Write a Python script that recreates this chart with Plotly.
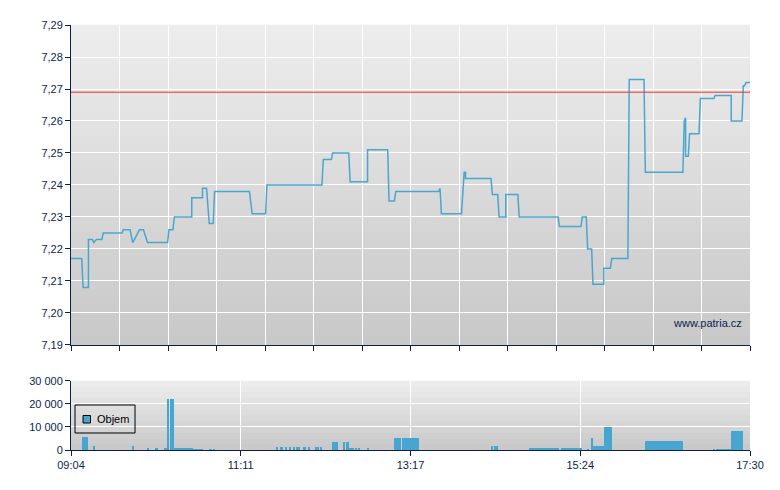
import plotly.graph_objects as go
from datetime import datetime

DAY = "2024-01-02 "
session_start = "09:04"
session_end = "17:30"
x_tick_labels = ["09:04", "11:11", "13:17", "15:24", "17:30"]
prev_close = 7.269
legend_label = "Objem"

price_times = ["09:04", "09:12", "09:13", "09:17", "09:17", "09:20", "09:21", "09:23", "09:27", "09:28",
               "09:42", "09:43", "09:48", "09:50", "09:55", "09:58", "10:01", "10:16", "10:17", "10:20",
               "10:21", "10:34", "10:34", "10:42", "10:42", "10:45", "10:47", "10:50", "10:51", "11:17",
               "11:19", "11:29", "11:30", "12:11", "12:12", "12:18", "12:19", "12:31", "12:32", "12:45",
               "12:45", "13:00", "13:01", "13:05", "13:06", "13:38", "13:39", "13:40", "13:55", "13:57",
               "13:58", "13:58", "14:17", "14:18", "14:22", "14:23", "14:28", "14:28", "14:37", "14:38",
               "15:07", "15:08", "15:24", "15:25", "15:28", "15:29", "15:32", "15:33", "15:41", "15:41",
               "15:46", "15:47", "15:59", "16:00", "16:11", "16:12", "16:40", "16:41", "16:42", "16:42",
               "16:44", "16:45", "16:52", "16:53", "17:03", "17:04", "17:16", "17:16", "17:24", "17:25",
               "17:26", "17:27", "17:30"]
price_values = [7.217, 7.217, 7.208, 7.208, 7.223, 7.223, 7.222, 7.223, 7.223, 7.225,
                7.225, 7.226, 7.226, 7.222, 7.226, 7.226, 7.222, 7.222, 7.226, 7.226,
                7.230, 7.230, 7.236, 7.236, 7.239, 7.239, 7.228, 7.228, 7.238, 7.238,
                7.231, 7.231, 7.240, 7.240, 7.248, 7.248, 7.250, 7.250, 7.241, 7.241,
                7.251, 7.251, 7.235, 7.235, 7.238, 7.238, 7.239, 7.231, 7.231, 7.244,
                7.244, 7.242, 7.242, 7.237, 7.237, 7.230, 7.230, 7.237, 7.237, 7.230,
                7.230, 7.227, 7.227, 7.230, 7.230, 7.220, 7.220, 7.209, 7.209, 7.214,
                7.214, 7.217, 7.217, 7.273, 7.273, 7.244, 7.244, 7.260, 7.261, 7.249,
                7.249, 7.256, 7.256, 7.267, 7.267, 7.268, 7.268, 7.260, 7.260, 7.271,
                7.271, 7.272, 7.272]

vol_start = ["09:12", "09:21", "09:50", "10:01", "10:07", "10:08", "10:13", "10:16", "10:18", "10:21",
             "10:35", "10:37", "10:47", "10:48", "10:50", "11:37", "11:40", "11:41", "11:44", "11:47",
             "11:50", "11:52", "11:57", "12:01", "12:06", "12:10", "12:19", "12:20", "12:27", "12:29",
             "12:31", "12:36", "12:38", "12:45", "13:05", "13:11", "13:14", "14:17", "14:19", "14:45",
             "15:09", "15:29", "15:32", "15:33", "15:41", "16:12", "17:03", "17:05", "17:08", "17:16"]
vol_end = ["09:17", "09:22", "09:51", "10:02", "10:08", "10:09", "10:16", "10:17", "10:21", "10:35",
           "10:37", "10:42", "10:48", "10:49", "10:51", "11:38", "11:41", "11:42", "11:45", "11:48",
           "11:51", "11:55", "11:59", "12:02", "12:09", "12:11", "12:20", "12:23", "12:28", "12:31",
           "12:35", "12:37", "12:39", "12:46", "13:10", "13:14", "13:23", "14:18", "14:22", "15:08",
           "15:25", "15:30", "15:33", "15:41", "15:47", "16:40", "17:04", "17:08", "17:16", "17:25"]
vol_values = [5600, 1700, 1700, 900, 900, 900, 900, 22000, 22000, 900,
              400, 400, 400, 400, 400, 1300, 1300, 1300, 1300, 1300,
              1300, 1300, 1300, 1300, 1300, 1300, 3600, 3600, 3600, 3600,
              900, 900, 900, 900, 5200, 5200, 5200, 1700, 1700, 900,
              900, 400, 5200, 1700, 10000, 3900, 400, 400, 400, 8200]


def ts(s):
    return datetime.strptime(DAY + s, "%Y-%m-%d %H:%M")


NAVY = "#0b1f4e"
LINE_BLUE = "#4aa6cf"
BAR_BLUE = "#46a6d0"
FONT = "Liberation Sans, Arial, sans-serif"

t0, t1 = ts(session_start), ts(session_end)
span = t1 - t0
top_grid = [t0 + span * i / 14 for i in range(15)]
bottom_ticks = [t0 + span * i / 4 for i in range(5)]

fig = go.Figure()

fig.add_trace(go.Scatter(
    x=[ts(t) for t in price_times], y=price_values, mode="lines",
    line=dict(color=LINE_BLUE, width=1.5), xaxis="x", yaxis="y",
    showlegend=False, hoverinfo="skip"))

fig.add_trace(go.Bar(
    x=[ts(s) for s in vol_start], y=vol_values,
    width=[(ts(e) - ts(s)).total_seconds() * 1000 for s, e in zip(vol_start, vol_end)],
    offset=0, marker=dict(color=BAR_BLUE, line=dict(width=0)),
    xaxis="x2", yaxis="y2", showlegend=False, hoverinfo="skip"))

shapes = []
# gradient backgrounds
n = 40
for i in range(n):
    c = int(238 - (238 - 200) * (i + 0.5) / n)
    col = f"rgb({c},{c},{c})"
    shapes.append(dict(type="rect", xref="x domain", yref="y domain",
                       x0=0, x1=1, y0=1 - (i + 1) / n, y1=1 - i / n + 0.001,
                       fillcolor=col, line=dict(width=0), layer="below"))
m = 12
for i in range(m):
    c = int(238 - (238 - 200) * (i + 0.5) / m)
    col = f"rgb({c},{c},{c})"
    shapes.append(dict(type="rect", xref="x2 domain", yref="y2 domain",
                       x0=0, x1=1, y0=1 - (i + 1) / m, y1=1 - i / m + 0.005,
                       fillcolor=col, line=dict(width=0), layer="below"))
shapes.append(dict(type="line", xref="x domain", yref="y", x0=0, x1=1,
                   y0=prev_close, y1=prev_close, line=dict(color="#e8332f", width=1)))
# manual legend box
shapes.append(dict(type="rect", xref="paper", yref="paper", x0=0.0059, x1=0.0943,
                   y0=0.040, y1=0.1059, line=dict(color="black", width=1),
                   fillcolor="rgba(0,0,0,0)"))
shapes.append(dict(type="rect", xref="paper", yref="paper", x0=0.0177, x1=0.0287,
                   y0=0.0635, y1=0.0812, line=dict(color="black", width=1),
                   fillcolor=BAR_BLUE))

axis_common = dict(showline=True, linecolor=NAVY, linewidth=1, ticks="outside",
                   tickcolor=NAVY, ticklen=5, tickfont=dict(family=FONT, size=11, color=NAVY),
                   gridcolor="white", gridwidth=1, zeroline=False)

fig.update_layout(
    width=780, height=490,
    margin=dict(l=71, r=30, t=25, b=40),
    paper_bgcolor="white", plot_bgcolor="#dcdcdc",
    separators=", ",
    font=dict(family=FONT, size=11, color=NAVY),
    shapes=shapes,
    showlegend=False,
    xaxis=dict(type="date", range=[t0, t1], tickmode="array", tickvals=top_grid,
               showticklabels=False, showgrid=True, domain=[0, 1], anchor="y", **axis_common),
    yaxis=dict(range=[7.19, 7.29], tickmode="linear", tick0=7.19, dtick=0.01, tickformat=".2f",
               domain=[0.2471, 1], anchor="x", showgrid=True, **axis_common),
    xaxis2=dict(type="date", range=[t0, t1], tickmode="array", tickvals=bottom_ticks,
                ticktext=x_tick_labels, showgrid=True, domain=[0, 1], anchor="y2", **axis_common),
    yaxis2=dict(range=[0, 30000], tickmode="linear", tick0=0, dtick=10000, tickformat=",d",
                domain=[0, 0.1624], anchor="x2", showgrid=True, **axis_common),
    annotations=[
        dict(text="www.patria.cz", xref="paper", yref="paper", x=1, y=0.299,
             xanchor="right", yanchor="middle", xshift=-6, showarrow=False,
             font=dict(family=FONT, size=11, color=NAVY)),
        dict(text=legend_label, xref="paper", yref="paper", x=0.0353, y=0.0729,
             xanchor="left", yanchor="middle", showarrow=False,
             font=dict(family=FONT, size=11, color="black")),
    ],
    bargap=0,
)

fig.write_html("out.html", config={"displayModeBar": False},
               post_script="document.body.style.margin='0px';")
